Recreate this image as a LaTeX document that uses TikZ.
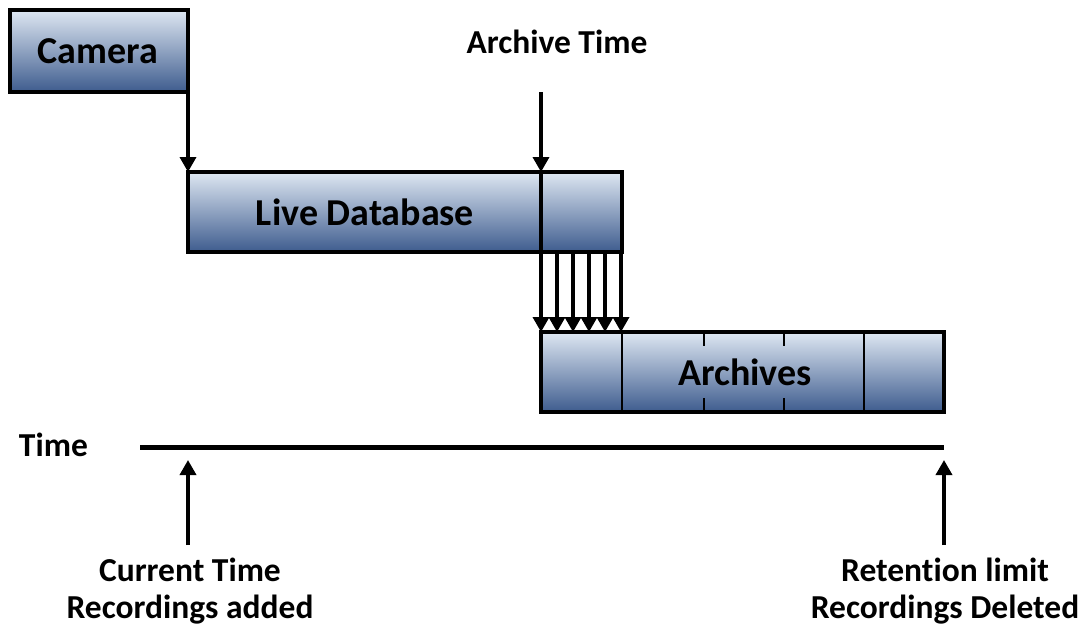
\documentclass[tikz,border=0pt]{standalone}
\usepackage{fontspec}
\setmainfont{Carlito}[Ligatures={NoCommon}]
\usetikzlibrary{arrows.meta}
\definecolor{boxtop}{RGB}{222,231,242}
\definecolor{boxmid}{RGB}{178,192,213}
\definecolor{boxbot}{RGB}{62,92,142}
\tikzset{
every picture/.style={
line width=4pt
},
box/.style={draw, top color=boxtop, middle color=boxmid, bottom color=boxbot, inner sep=0pt, outer sep=0pt},
lbl/.style={font=\fontsize{33.5}{37}\selectfont\bfseries, align=center, inner sep=0pt},
boxlbl/.style={font=\fontsize{38}{40}\selectfont\bfseries, inner sep=0pt},
arr/.style={-{Triangle[width=16pt,length=15pt]}, line width=3.5pt}
}

\begin{document}
\begin{tikzpicture}[x=1pt,y=-1pt]
  \useasboundingbox (0,0) rectangle (1085,633);

  % boxes
  \node[box, minimum width=178pt, minimum height=82pt] (camera) at (99,51) {};
  \node[boxlbl] at (98,51) {Camera};
  \node[box, minimum width=434pt, minimum height=80pt] (live) at (405,212) {};
  \node[boxlbl] at (365,212) {Live Database};
  \node[box, minimum width=403pt, minimum height=80pt] (arch) at (742.5,372) {};
  \node[boxlbl] at (745,372) {Archives};

  % archive sections
  \draw[line width=2.5pt] (622,332) -- (622,412);
  \draw[line width=2.5pt] (864,332) -- (864,412);
  \foreach \x in {704,784}{
    \draw[line width=2.5pt] (\x,332) -- (\x,346);
    \draw[line width=2.5pt] (\x,398) -- (\x,412);
  }

  % camera to live database
  \draw[arr] (camera.south east) -- (live.north west);

  % archive time
  \node[lbl] (atime) at (557,42) {Archive Time};
  \coordinate (atop) at (541,92);
  \draw[arr] (atop) -- (atop |- live.north);
  \draw (atop |- live.north) -- (atop |- live.south);
  \foreach \i in {0,1,...,5}{
    \draw[arr] ([xshift=16*\i pt]arch.north west |- live.south) -- ([xshift=16*\i pt]arch.north west);
  }

  % time line
  \node[lbl, anchor=west] (time) at (17,445) {Time};
  \coordinate (t0) at (140,447);
  \coordinate (t1) at (944,447);
  \draw[line width=5pt] (t0) -- (t1);

  % markers
  \node[lbl] (cur) at (190,591) {Current Time\\Recordings added};
  \node[lbl] (ret) at (945,591) {Retention limit\\Recordings Deleted};
  \coordinate (c0) at (188,545);
  \coordinate (c1) at (188,460);
  \coordinate (r0) at (944,545);
  \coordinate (r1) at (944,460);
  \draw[arr] (c0) -- (c1);
  \draw[arr] (r0) -- (r1);
\end{tikzpicture}
\end{document}
